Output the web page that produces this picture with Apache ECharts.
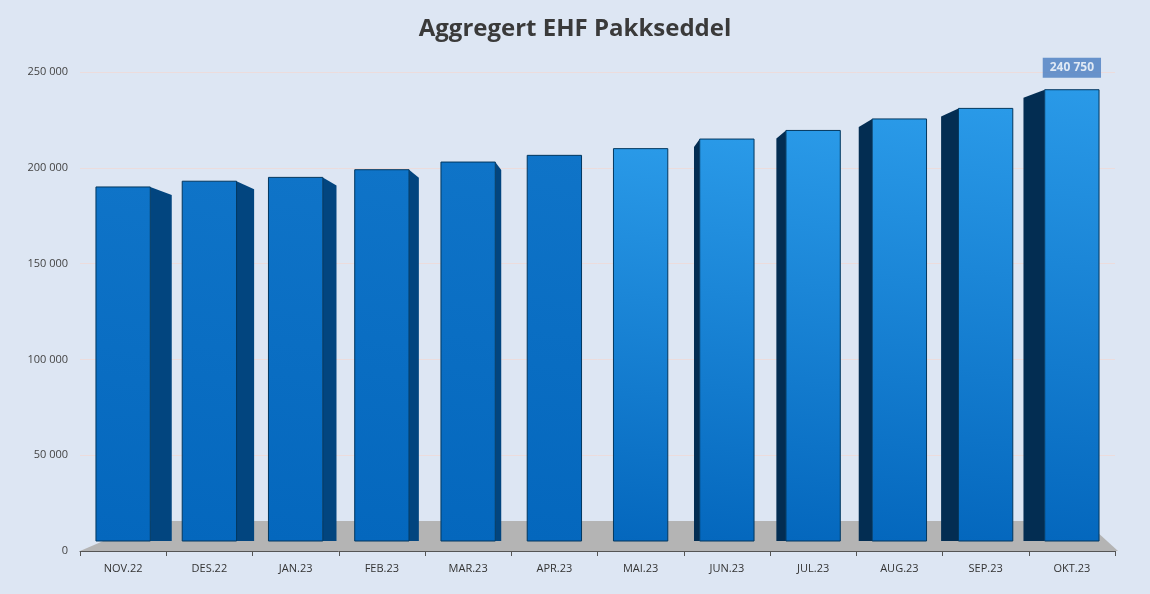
<!DOCTYPE html>
<html lang='en'>
<head>
  <meta charset='UTF-8'>
  <title>Aggregert EHF Pakkseddel</title>
  <script src="https://cdn.jsdelivr.net/npm/echarts@6/dist/echarts.min.js"></script>
  <style>html,body{margin:0;padding:0;background:#dde6f3;}</style>
</head>
<body>
<div id="main" style="width: 1150px; height:594px;"></div>
<script>
  const months = ['NOV.22','DES.22','JAN.23','FEB.23','MAR.23','APR.23','MAI.23','JUN.23','JUL.23','AUG.23','SEP.23','OKT.23']
  const values = [190000, 193000, 195000, 199000, 203000, 206500, 210000, 215000, 219500, 225500, 231000, 240750]
  const labelIndex = 11

  const fmt = v => String(v).replace(/\B(?=(\d{3})+(?!\d))/g, ' ')

  var myChart = echarts.init(document.getElementById('main'))

  function renderBar(params, api) {
    const i = api.value(0)
    const v = api.value(1)
    const top = api.coord([i, v])
    const base = api.coord([i, 0])
    const w = api.size([1, 0])[0] * 0.63
    const cx = top[0]
    const x0 = cx - w / 2, x1 = cx + w / 2
    const y0 = top[1], y1 = base[1] - 10
    const dx = (600 - cx) * 0.045
    const children = []
    if (Math.abs(dx) > 3) {
      const ex = dx > 0 ? x1 : x0
      children.push({
        type: 'polygon',
        shape: { points: [[ex, y0], [ex + dx, y0 + 8], [ex + dx, y1], [ex, y1]] },
        style: { fill: dx > 0 ? '#02457f' : '#032d52' }
      })
    }
    children.push({
      type: 'rect',
      shape: { x: x0, y: y0, width: w, height: y1 - y0 },
      style: {
        fill: new echarts.graphic.LinearGradient(0, 1, 1, 0, [
          { offset: 0, color: '#0467bd' },
          { offset: 1, color: i > 5 ? '#2a9ae8' : '#0f74c8' }
        ]),
        stroke: '#02375f', lineWidth: 1
      }
    })
    return { type: 'group', children }
  }

  var option = {
    backgroundColor: '#dde6f3',
    title: {
      text: 'Aggregert EHF Pakkseddel',
      left: 'center', top: 12,
      textStyle: { fontFamily: 'Open Sans', fontSize: 24, fontWeight: 'bold', color: '#3a3a3a' }
    },
    grid: { left: 80, right: 35, top: 72, bottom: 43 },
    graphic: [{
      type: 'polygon', z: 0,
      shape: { points: [[80, 551], [1118, 551], [1085, 521], [150, 521]] },
      style: { fill: '#b4b4b4' }
    }],
    xAxis: {
      type: 'category', data: months,
      axisLine: { lineStyle: { color: '#555' } },
      axisTick: { show: true, alignWithLabel: false, lineStyle: { color: '#555' } },
      axisLabel: { color: '#333', fontSize: 11, fontFamily: 'Open Sans', margin: 12 }
    },
    yAxis: {
      type: 'value', min: 0, max: 250000, interval: 50000,
      axisLabel: { formatter: fmt, color: '#444', fontSize: 11, fontFamily: 'Open Sans', margin: 12 },
      splitLine: { lineStyle: { color: '#ecdcdc' } }
    },
    series: [{
      type: 'custom', z: 2,
      renderItem: renderBar,
      data: values.map((v, i) => [i, v]),
      encode: { x: 0, y: 1 }
    }, {
      type: 'scatter', symbolSize: 0, z: 3,
      data: [[labelIndex, values[labelIndex]]],
      label: {
        show: true, position: 'top', distance: 12,
        formatter: p => fmt(p.value[1]),
        backgroundColor: '#4a7dc0', color: '#fff', fontWeight: 'bold', fontSize: 12,
        padding: [4, 7], fontFamily: 'Open Sans'
      }
    }]
  }
  myChart.setOption(option)
</script>
</body>
</html>
